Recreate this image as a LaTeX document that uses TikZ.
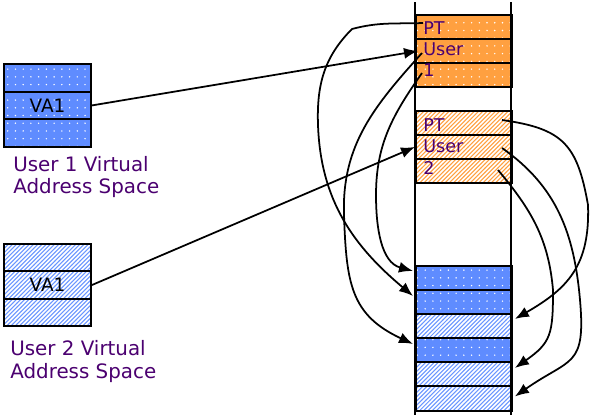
\documentclass[tikz,border=0pt]{standalone}
\usepackage{fontspec}
\setmainfont{DejaVu Sans}
\usepackage{xcolor}
\usetikzlibrary{arrows.meta, patterns, positioning}

\definecolor{pageorange}{HTML}{FFA040}
\definecolor{pageblue}{HTML}{5F8CFF}
\definecolor{stripeblue}{HTML}{6A96FF}
\definecolor{labelpurple}{HTML}{4B0070}

\pgfdeclarepatternformonly{sparse dots}{\pgfqpoint{-1pt}{-1pt}}{\pgfqpoint{1pt}{1pt}}{\pgfqpoint{4.4pt}{4.4pt}}%
{\pgfpathcircle{\pgfqpoint{0pt}{0pt}}{0.45pt}\pgfusepath{fill}}
\pgfdeclarepatternformonly{dense lines}{\pgfqpoint{-1pt}{-1pt}}{\pgfqpoint{3.4pt}{3.4pt}}{\pgfqpoint{2.4pt}{2.4pt}}%
{\pgfsetlinewidth{0.6pt}\pgfpathmoveto{\pgfqpoint{0pt}{0pt}}\pgfpathlineto{\pgfqpoint{2.5pt}{2.5pt}}\pgfusepath{stroke}}

\tikzset{
  cell/.style={draw, line width=1.1pt, inner sep=0pt, anchor=north west},
  memcell/.style={cell, minimum width=1.92cm, minimum height=0.48cm},
  vacell/.style={cell, minimum width=1.74cm, minimum height=0.55cm},
  orangedots/.style={preaction={fill=pageorange}, pattern=sparse dots, pattern color=white},
  orangelines/.style={preaction={fill=white}, pattern=dense lines, pattern color=pageorange},
  bluedots/.style={preaction={fill=pageblue}, pattern=sparse dots, pattern color=white},
  bluelines/.style={preaction={fill=white}, pattern=dense lines, pattern color=stripeblue},
  memtext/.style={anchor=base west, inner sep=0pt, align=left, text=labelpurple,
    font=\fontsize{10}{12}\selectfont},
  spacelabel/.style={anchor=base west, inner sep=0pt, align=left, text=labelpurple,
    font=\fontsize{11.3}{12.4}\selectfont},
  map/.style={-{Latex[length=2.8mm,width=2.2mm]}, line width=1pt},
}

\begin{document}
\begin{tikzpicture}[x=0.02cm, y=-0.02cm]
    \useasboundingbox (0,0) rectangle (591,417);

    % User 1 virtual address space
    \node[vacell, bluedots] (vaa1) at (3,63) {};
    \node[vacell, bluedots, font=\fontsize{10.5}{12}\selectfont] (vaa2) at (3,90.7) {VA1};
    \node[vacell, bluedots] (vaa3) at (3,118.3) {};
    \node[spacelabel] (labela) at (13,193.3) {User 1 Virtual\\Address Space};

    % User 2 virtual address space
    \node[vacell, bluelines] (vab1) at (3,243) {};
    \node[vacell, bluelines, font=\fontsize{10.5}{12}\selectfont] (vab2) at (3,270.3) {VA1};
    \node[vacell, bluelines] (vab3) at (3,297.6) {};
    \node[spacelabel, font=\fontsize{11.3}{12.9}\selectfont] (labelb) at (10,378) {User 2 Virtual\\Address Space};

    % Physical memory: page table of user 1
    \node[memcell, orangedots] (pta1) at (415,14) {};
    \node[memcell, orangedots] (pta2) at (415,38) {};
    \node[memcell, orangedots] (pta3) at (415,62) {};
    \node[memtext] (tablea) at (423,76.7) {PT\\User\\1};

    % Page table of user 2
    \node[memcell, orangelines] (ptb1) at (415,110) {};
    \node[memcell, orangelines] (ptb2) at (415,134) {};
    \node[memcell, orangelines] (ptb3) at (415,158) {};
    \node[memtext] (tableb) at (423,174) {PT\\User\\2};

    % Page frames
    \node[memcell, bluedots] (frame1) at (415,265) {};
    \node[memcell, bluedots] (frame2) at (415,289) {};
    \node[memcell, bluelines] (frame3) at (415,313) {};
    \node[memcell, bluedots] (frame4) at (415,337) {};
    \node[memcell, bluelines] (frame5) at (415,361) {};
    \node[memcell, bluelines, minimum height=0.5cm] (frame6) at (415,385) {};

    % Memory column edges
    \draw[line width=1.1pt] (415,2) -- (415,415);
    \draw[line width=1.1pt] (511,2) -- (511,415);

    % Entry points inside the page tables
    \coordinate (pta) at (423,23);
    \coordinate (usera) at (422,53);
    \coordinate (onea) at (422,73);
    \coordinate (ptb) at (502,120);
    \coordinate (userb) at (502,148);
    \coordinate (twob) at (498,170);

    % VA1 into the page tables
    \draw[map] (vaa2.east) -- ([xshift=0.06cm]pta2.west);
    \draw[map] (vab2.east) -- (ptb2.west);

    % User 1 mappings
    \draw[map] (pta) to[out=182,in=15] (352,29) to[out=-135,in=92] (318,125)
        to[out=-88,in=140] ([xshift=-0.04cm,yshift=0.12cm]frame2.west);
    \draw[map] (usera) to[out=-132,in=92] (344,215)
        to[out=-88,in=155,looseness=1.2] ([xshift=-0.04cm,yshift=0.12cm]frame4.west);
    \draw[map] (onea) to[out=-125,in=90] (376,195)
        to[out=-90,in=165] ([xshift=-0.04cm,yshift=0.14cm]frame1.west);

    % User 2 mappings
    \draw[map] (ptb) to[out=-8,in=100,looseness=1.3] (588,205)
        to[out=-88,in=30,looseness=1.15] ([xshift=0.04cm,yshift=0.14cm]frame3.east);
    \draw[map] (userb) to[out=-35,in=95] (580,300)
        to[out=-85,in=35,looseness=1.5] ([xshift=0.04cm,yshift=0.04cm]frame6.east);
    \draw[map] (twob) to[out=-50,in=95] (553,290)
        to[out=-90,in=35,looseness=1.3] ([xshift=0.04cm,yshift=0.12cm]frame5.east);
\end{tikzpicture}
\end{document}
